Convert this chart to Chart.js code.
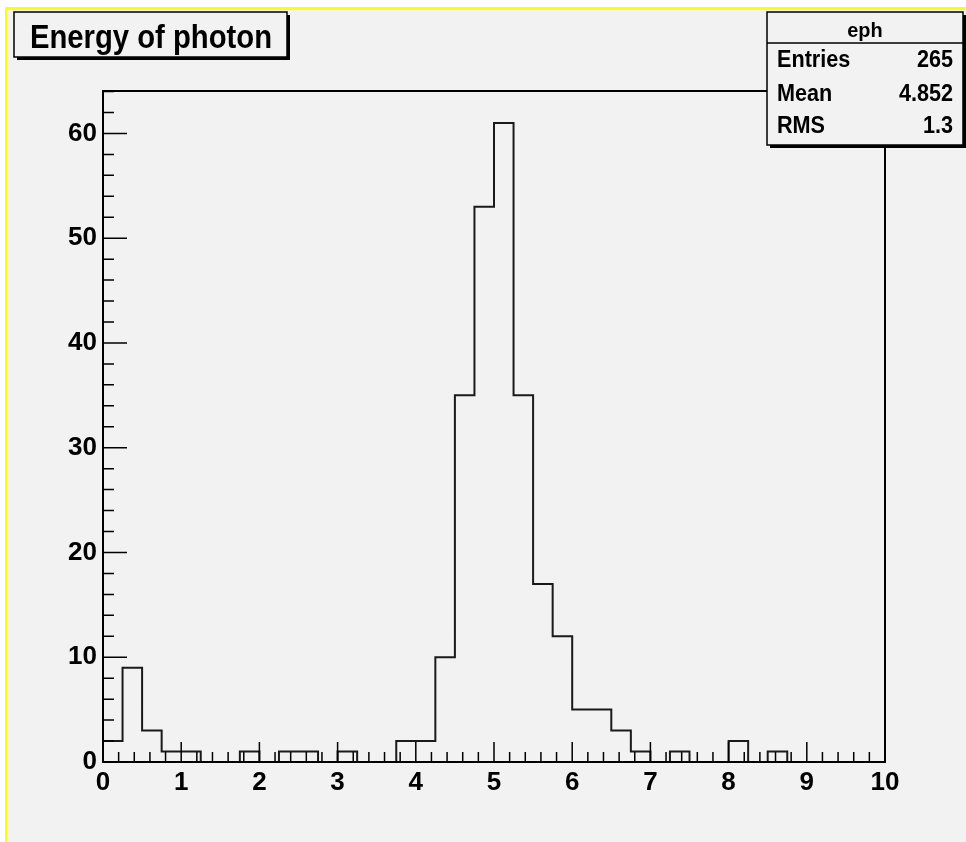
<!DOCTYPE html>
<html>
<head>
<meta charset="utf-8">
<title>Energy of photon</title>
<script src="https://cdn.jsdelivr.net/npm/chart.js@4.4.0/dist/chart.umd.min.js"></script>
<style>
  html, body { margin: 0; padding: 0; background: #fff; }
  #wrap { width: 966px; height: 842px; }
</style>
</head>
<body>
<div id="wrap"><canvas id="ephChart" width="966" height="842"></canvas></div>
<script>
// --- DATA ---
const titleText = 'Energy of photon';
const histName = 'eph';
const statLabels = ['Entries', 'Mean', 'RMS'];
const statValues = ['265', '4.852', '1.3'];

// bin low edges (width 0.25)
const binEdges = [0, 0.25, 0.5, 0.75, 1, 1.25, 1.5, 1.75, 2, 2.25,
                  2.5, 2.75, 3, 3.25, 3.5, 3.75, 4, 4.25, 4.5, 4.75,
                  5, 5.25, 5.5, 5.75, 6, 6.25, 6.5, 6.75, 7, 7.25,
                  7.5, 7.75, 8, 8.25, 8.5, 8.75, 9, 9.25, 9.5, 9.75];
const binCounts = [2, 9, 3, 1, 1, 0, 0, 1, 0, 1,
                   1, 0, 1, 0, 0, 2, 2, 10, 35, 53,
                   61, 35, 17, 12, 5, 5, 3, 1, 0, 1,
                   0, 0, 2, 0, 1, 0, 0, 0, 0, 0];
const xMin = 0, xMax = 10;
const yMin = 0, yMax = 64.05;
const xTicks = [0, 1, 2, 3, 4, 5, 6, 7, 8, 9, 10];
const yTicks = [0, 10, 20, 30, 40, 50, 60];

// --- STYLE ---
const BG = '#f2f2f2';
const FONT = "'Liberation Sans', Arial, sans-serif";

// outline points for the stepped histogram
const histPoints = [{ x: xMin, y: 0 }];
binEdges.forEach((e, i) => histPoints.push({ x: e, y: binCounts[i] }));
histPoints.push({ x: xMax, y: binCounts[binCounts.length - 1] });

function condensedText(ctx, text, x, y, sx, align) {
    ctx.save();
    ctx.translate(x, y);
    ctx.scale(sx, 1);
    ctx.textAlign = align || 'left';
    ctx.fillText(text, 0, 0);
    ctx.restore();
}

function shadowBox(ctx, x, y, w, h) {
    ctx.fillStyle = '#000';
    ctx.fillRect(x + 3, y + 3, w, h);
    ctx.fillStyle = BG;
    ctx.fillRect(x, y, w, h);
    ctx.strokeStyle = '#000';
    ctx.lineWidth = 1.5;
    ctx.strokeRect(x, y, w, h);
}

const rootPadPlugin = {
    id: 'rootPad',
    beforeDraw(chart) {
        const ctx = chart.ctx;
        ctx.save();
        ctx.fillStyle = '#fff';
        ctx.fillRect(0, 0, chart.width, chart.height);
        ctx.fillStyle = BG;
        ctx.fillRect(5, 7, chart.width - 5, chart.height - 7);
        ctx.fillStyle = '#ffff00';
        ctx.fillRect(5, 7, chart.width - 5, 3);
        ctx.fillRect(5, 7, 2, chart.height - 7);
        ctx.restore();
    },
    afterDraw(chart) {
        const ctx = chart.ctx;
        const a = chart.chartArea;
        const xs = chart.scales.x, ys = chart.scales.y;
        ctx.save();

        // frame
        ctx.strokeStyle = '#000';
        ctx.lineWidth = 2;
        ctx.strokeRect(a.left, a.top, a.right - a.left, a.bottom - a.top);

        // x ticks (inside)
        ctx.lineWidth = 1.5;
        ctx.beginPath();
        for (let k = 0; k <= 50; k++) {
            const v = xMin + k * 0.2;
            const px = xs.getPixelForValue(v);
            const len = (k % 5 === 0) ? 20 : 10;
            ctx.moveTo(px, a.bottom);
            ctx.lineTo(px, a.bottom - len);
        }
        // y ticks (inside)
        for (let k = 0; k * 2 <= yMax; k++) {
            const v = k * 2;
            const py = ys.getPixelForValue(v);
            const len = (k % 5 === 0) ? 24 : 11;
            ctx.moveTo(a.left, py);
            ctx.lineTo(a.left + len, py);
        }
        ctx.stroke();

        // title box
        shadowBox(ctx, 14, 12, 273, 45);
        ctx.fillStyle = '#000';
        ctx.font = 'bold 34px ' + FONT;
        let w = ctx.measureText(titleText).width;
        condensedText(ctx, titleText, 30, 47.5, 242 / w);

        // stats box
        shadowBox(ctx, 767, 12, 196, 133);
        ctx.lineWidth = 1.5;
        ctx.beginPath();
        ctx.moveTo(767, 43);
        ctx.lineTo(963, 43);
        ctx.stroke();
        ctx.fillStyle = '#000';
        ctx.font = 'bold 21px ' + FONT;
        condensedText(ctx, histName, 865, 37, 0.95, 'center');
        ctx.font = 'bold 23px ' + FONT;
        const rowY = [67, 101, 133];
        statLabels.forEach((lab, i) => {
            condensedText(ctx, lab, 777, rowY[i], 0.94, 'left');
            condensedText(ctx, statValues[i], 953, rowY[i], 0.94, 'right');
        });
        ctx.restore();
    }
};

const tickFont = { family: FONT, weight: 'bold', size: 26 };

new Chart(document.getElementById('ephChart'), {
    type: 'line',
    data: {
        datasets: [{
            label: histName,
            data: histPoints,
            stepped: 'before',
            borderColor: '#1a1a1a',
            borderWidth: 2,
            pointRadius: 0,
            fill: false,
            tension: 0,
            clip: false
        }]
    },
    options: {
        responsive: false,
        animation: false,
        events: [],
        layout: { padding: { left: 0, right: 81, top: 91, bottom: 0 } },
        plugins: {
            legend: { display: false },
            title: { display: false },
            tooltip: { enabled: false }
        },
        scales: {
            x: {
                type: 'linear',
                min: xMin,
                max: xMax,
                afterFit: s => { s.height = 80; },
                afterBuildTicks: s => { s.ticks = xTicks.map(v => ({ value: v })); },
                ticks: { color: '#000', font: tickFont, padding: 5, maxRotation: 0, autoSkip: false },
                grid: { display: false, drawTicks: false },
                border: { display: false }
            },
            y: {
                type: 'linear',
                min: yMin,
                max: yMax,
                afterFit: s => { s.width = 103; },
                afterBuildTicks: s => { s.ticks = yTicks.map(v => ({ value: v })); },
                ticks: { color: '#000', font: tickFont, padding: 6, autoSkip: false },
                grid: { display: false, drawTicks: false },
                border: { display: false }
            }
        }
    },
    plugins: [rootPadPlugin]
});
</script>
</body>
</html>
